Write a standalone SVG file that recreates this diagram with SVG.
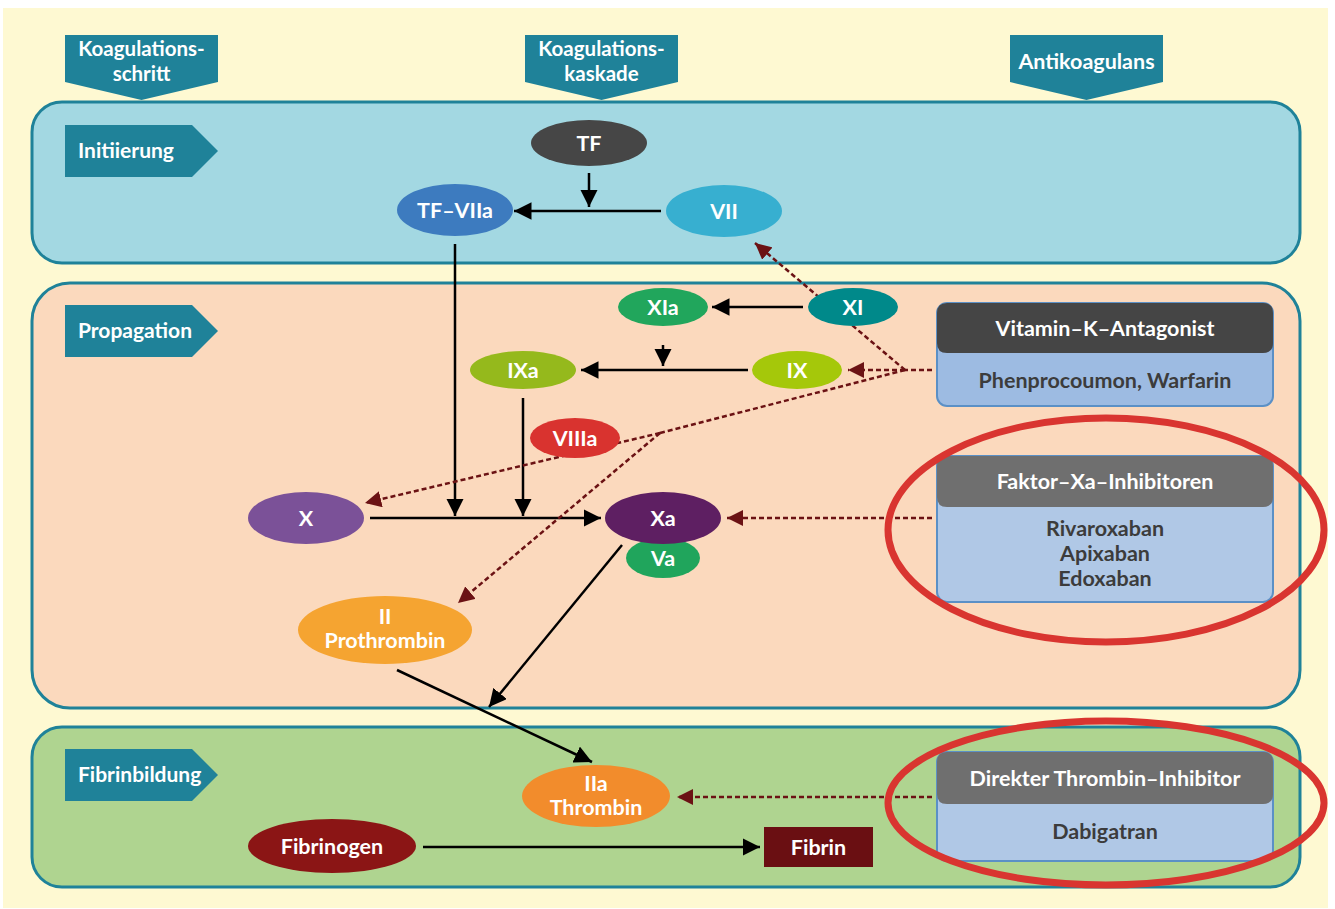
<svg xmlns="http://www.w3.org/2000/svg" width="1335" height="909" viewBox="0 0 1335 909">
<style>
  text { font-family: Lato, "Liberation Sans", sans-serif; font-weight: bold; text-anchor: middle; }
  .w { fill: #ffffff; font-size: 21.5px; }
  .h2 { fill: #ffffff; font-size: 20.5px; }
  .hd { fill: #ffffff; font-size: 21.5px; }
  .bd { fill: #3c3c3c; font-size: 21.5px; }
  .tab { fill: #ffffff; font-size: 21px; text-anchor: start; }
  .panel { stroke: #1f8299; stroke-width: 3; }
  .teal { fill: #1f8299; }
  .ar { stroke: #000; stroke-width: 2.5; fill: none; marker-end: url(#ah); }
  .da { stroke: #6b1214; stroke-width: 2.5; fill: none; stroke-dasharray: 5 3; }
  .dam { marker-end: url(#dh); }
  .ring { fill: none; stroke: #d93530; stroke-width: 7; }
  .boxb { stroke: #5b90c6; stroke-width: 2; }
</style>
<defs>
  <marker id="ah" viewBox="0 0 10 10" refX="10" refY="5" markerWidth="7" markerHeight="7" markerUnits="strokeWidth" orient="auto">
    <path d="M0,0 L10,5 L0,10 Z" fill="#000"/>
  </marker>
  <marker id="dh" viewBox="0 0 10 10" refX="10" refY="5" markerWidth="6.5" markerHeight="6.5" markerUnits="strokeWidth" orient="auto">
    <path d="M0,0 L10,5 L0,10 Z" fill="#6b1214"/>
  </marker>
</defs>
<rect x="0" y="0" width="1335" height="909" fill="#ffffff"/>
<rect x="3" y="8" width="1325" height="900" fill="#fef9d2"/>

<g id="panels">
  <rect class="panel" x="32" y="102" width="1268" height="161" rx="30" fill="#a3d8e2"/>
  <rect class="panel" x="32" y="283" width="1268" height="425" rx="38" fill="#fbd9bd"/>
  <rect class="panel" x="32" y="727" width="1268" height="160" rx="30" fill="#afd490"/>
</g>

<g id="headers">
  <g id="h-schritt">
    <path class="teal" d="M65,35 H218 V82 L141.5,100 L65,82 Z"/>
    <text class="h2" x="141.5" y="56">Koagulations-</text>
    <text class="h2" x="141.5" y="81">schritt</text>
  </g>
  <g id="h-kaskade">
    <path class="teal" d="M525,35 H678 V82 L601.5,100 L525,82 Z"/>
    <text class="h2" x="601.5" y="56">Koagulations-</text>
    <text class="h2" x="601.5" y="81">kaskade</text>
  </g>
  <g id="h-anti">
    <path class="teal" d="M1010,35 H1163 V82 L1086.5,100 L1010,82 Z"/>
    <text class="w" x="1086.5" y="69">Antikoagulans</text>
  </g>
</g>

<g id="tabs">
  <g id="tab-init">
    <path class="teal" d="M65,125 H192 L218,151 L192,177 H65 Z"/>
    <text class="tab" x="78" y="158">Initiierung</text>
  </g>
  <g id="tab-prop">
    <path class="teal" d="M65,305 H192 L218,331 L192,357 H65 Z"/>
    <text class="tab" x="78" y="338">Propagation</text>
  </g>
  <g id="tab-fib">
    <path class="teal" d="M65,749 H192 L218,775 L192,801 H65 Z"/>
    <text class="tab" x="78" y="782">Fibrinbildung</text>
  </g>
</g>

<g id="connectors">
  <line class="ar" x1="589" y1="173" x2="589" y2="207"/>
  <line class="ar" x1="661" y1="211" x2="514" y2="211"/>
  <line class="ar" x1="455" y1="244" x2="455" y2="516"/>
  <line class="ar" x1="803" y1="307" x2="712" y2="307"/>
  <line class="ar" x1="663" y1="345" x2="663" y2="366"/>
  <line class="ar" x1="748" y1="370" x2="581" y2="370"/>
  <line class="ar" x1="523" y1="398" x2="523" y2="516"/>
  <line class="ar" x1="370" y1="518" x2="601" y2="518"/>
  <line class="ar" x1="622" y1="545" x2="489" y2="707"/>
  <line class="ar" x1="397" y1="670" x2="592" y2="762"/>
  <line class="ar" x1="423" y1="847" x2="760" y2="847"/>

  <line class="da" x1="932" y1="370" x2="905" y2="370"/>
  <line class="da dam" x1="905" y1="370" x2="848" y2="370"/>
  <line class="da dam" x1="905" y1="370" x2="755" y2="243"/>
  <line class="da" x1="905" y1="370" x2="660" y2="433"/>
  <line class="da dam" x1="660" y1="433" x2="365" y2="503"/>
  <line class="da dam" x1="660" y1="433" x2="458" y2="603"/>
  <line class="da dam" x1="932" y1="518" x2="727" y2="518"/>
  <line class="da dam" x1="932" y1="797" x2="677" y2="797"/>
</g>

<g id="n-TF"><ellipse cx="589" cy="143" rx="58" ry="23" fill="#464646"/><text class="w" x="589" y="150.5">TF</text></g>
<g id="n-TFVIIa"><ellipse cx="455" cy="210" rx="58" ry="26" fill="#3d7bbf"/><text class="w" x="455" y="217.5">TF–VIIa</text></g>
<g id="n-VII"><ellipse cx="724" cy="211" rx="58" ry="26" fill="#37afd0"/><text class="w" x="724" y="218.5">VII</text></g>
<g id="n-XIa"><ellipse cx="663" cy="307" rx="45" ry="19" fill="#21a65c"/><text class="w" x="663" y="314.5">XIa</text></g>
<g id="n-XI"><ellipse cx="853" cy="307" rx="45" ry="19" fill="#00898a"/><text class="w" x="853" y="314.5">XI</text></g>
<g id="n-IXa"><ellipse cx="523" cy="370" rx="53" ry="19" fill="#95b91c"/><text class="w" x="523" y="377.5">IXa</text></g>
<g id="n-IX"><ellipse cx="797" cy="370" rx="45" ry="19" fill="#a5c80a"/><text class="w" x="797" y="377.5">IX</text></g>
<g id="n-VIIIa"><ellipse cx="575" cy="438" rx="45" ry="20" fill="#d9332f"/><text class="w" x="575" y="445.5">VIIIa</text></g>
<g id="n-X"><ellipse cx="306" cy="518" rx="58" ry="26" fill="#7b5198"/><text class="w" x="306" y="525.5">X</text></g>
<g id="n-Va"><ellipse cx="663" cy="558" rx="37" ry="20" fill="#20a55c"/><text class="w" x="663" y="565.5">Va</text></g>
<g id="n-Xa"><ellipse cx="663" cy="518" rx="58" ry="26" fill="#5e1f62"/><text class="w" x="663" y="525.5">Xa</text></g>
<g id="n-II"><ellipse cx="385" cy="630" rx="87" ry="34" fill="#f5a431"/><text class="w" x="385" y="624">II</text><text class="w" x="385" y="647.5">Prothrombin</text></g>
<g id="n-IIa"><ellipse cx="596" cy="796" rx="74" ry="31" fill="#f28c2c"/><text class="w" x="596" y="791">IIa</text><text class="w" x="596" y="814.5">Thrombin</text></g>
<g id="n-Fibrinogen"><ellipse cx="332" cy="846" rx="84" ry="27" fill="#8b1515"/><text class="w" x="332" y="853.5">Fibrinogen</text></g>
<g id="n-Fibrin"><rect x="764" y="827" width="109" height="40" fill="#6a0f12"/><text class="w" x="818.5" y="854.5">Fibrin</text></g>

<g id="b-VKA">
  <rect class="boxb" x="937" y="303" width="336" height="103" rx="10" fill="#9dbbe2"/>
  <path d="M947,303 H1263 Q1273,303 1273,313 V343 Q1273,353 1263,353 H947 Q937,353 937,343 V313 Q937,303 947,303 Z" fill="#454545"/>
  <text class="hd" x="1105" y="335.5">Vitamin–K–Antagonist</text>
  <text class="bd" x="1105" y="387.5">Phenprocoumon, Warfarin</text>
</g>
<g id="b-FXa">
  <rect class="boxb" x="937" y="456" width="336" height="146" rx="10" fill="#b0c8e6"/>
  <path d="M947,456 H1263 Q1273,456 1273,466 V497 Q1273,507 1263,507 H947 Q937,507 937,497 V466 Q937,456 947,456 Z" fill="#6f6f6f"/>
  <text class="hd" x="1105" y="488.5">Faktor–Xa–Inhibitoren</text>
  <text class="bd" x="1105" y="536">Rivaroxaban</text>
  <text class="bd" x="1105" y="561">Apixaban</text>
  <text class="bd" x="1105" y="586">Edoxaban</text>
</g>
<g id="b-DTI">
  <rect class="boxb" x="937" y="752" width="336" height="109" rx="10" fill="#b0c8e6"/>
  <path d="M947,752 H1263 Q1273,752 1273,762 V794 Q1273,804 1263,804 H947 Q937,804 937,794 V762 Q937,752 947,752 Z" fill="#6f6f6f"/>
  <text class="hd" x="1105" y="785.5">Direkter Thrombin–Inhibitor</text>
  <text class="bd" x="1105" y="838.5">Dabigatran</text>
</g>

<g id="rings">
  <ellipse class="ring" cx="1106" cy="530" rx="218" ry="112"/>
  <ellipse class="ring" cx="1106" cy="803" rx="218" ry="82"/>
</g>
</svg>
